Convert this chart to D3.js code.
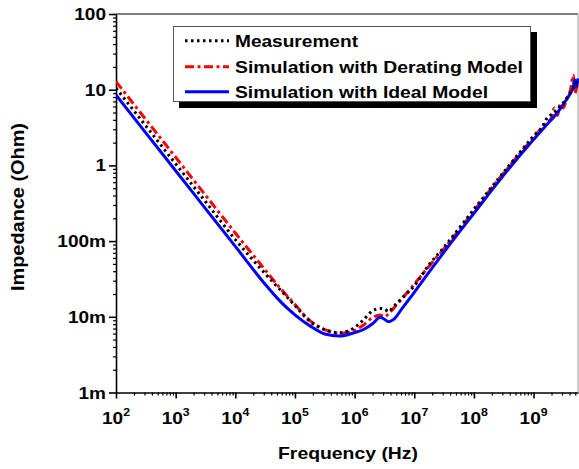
<!DOCTYPE html>
<html><head><meta charset="utf-8">
<script src="https://cdn.jsdelivr.net/npm/d3@7"></script>
<style>body{margin:0;background:#fff}svg{display:block}text{font-family:"Liberation Sans",Arial,sans-serif;font-weight:bold;fill:#000}</style>
</head><body><div id="chart"></div>
<script>
// ---- data ----
const seriesNames = ["Measurement", "Simulation with Derating Model", "Simulation with Ideal Model"];

const measFreq = [1e2,3.16e2,1e3,3.16e3,1e4,3.16e4,5.62e4,1e5,1.78e5,3.16e5,5.62e5,1e6,1.41e6,2e6,2.69e6,3.16e6,3.72e6,4.47e6,6.31e6,1e7,1.78e7,3.16e7,1e8,3.16e8,1e9,1.48e9,1.6e9,2.24e9,3.16e9,4.17e9,5.56e9];
const measZ    = [10.5,3.33,1.05,0.333,0.105,0.0372,0.0229,0.0141,0.0087,0.00676,0.00617,0.00724,0.00912,0.0120,0.0129,0.0127,0.0117,0.0136,0.0178,0.0257,0.0490,0.0832,0.263,0.813,2.45,3.5,3.98,5.0,6.76,9.12,13.5];

const deratFreq = [1e2,3.16e2,1e3,3.16e3,1e4,3.16e4,5.62e4,1e5,1.78e5,3.16e5,5.62e5,1e6,1.41e6,2e6,2.69e6,3.16e6,3.72e6,4.47e6,6.31e6,1e7,1.78e7,3.16e7,1e8,3.16e8,1e9,1.58e9,2e9,2.24e9,2.51e9,2.82e9,3.16e9,3.55e9,4.17e9,4.62e9,4.9e9,5.25e9,5.56e9];
const deratZ    = [12.8,4.04,1.28,0.404,0.128,0.0417,0.0240,0.0145,0.00891,0.00676,0.00607,0.00661,0.0078,0.00977,0.01057,0.01005,0.01096,0.0129,0.0176,0.0269,0.0468,0.0794,0.251,0.794,2.34,3.55,4.27,5.75,4.57,6.61,5.75,7.41,10.0,15.5,8.91,10.5,13.2];

const idealFreq = [1e2,3.16e2,1e3,3.16e3,1e4,3.16e4,5.62e4,1e5,1.78e5,3.16e5,5.62e5,1e6,1.41e6,2e6,2.69e6,3.16e6,3.72e6,4.47e6,6.31e6,1e7,1.78e7,3.16e7,1e8,3.16e8,1e9,1.58e9,2.24e9,2.82e9,3.55e9,4.17e9,4.62e9,4.9e9,5.25e9,5.56e9];
const idealZ    = [8.51,2.69,0.851,0.269,0.0851,0.0269,0.0161,0.0106,0.00759,0.00593,0.00557,0.0062,0.0068,0.0081,0.00984,0.00927,0.00861,0.00918,0.0130,0.0210,0.0391,0.0718,0.233,0.745,2.20,3.30,4.47,5.61,7.36,9.04,10.7,13.4,11.0,14.1];

const yTickValues = [1e-3,1e-2,1e-1,1,10,100];
const yTickLabels = ["1m","10m","100m","1","10","100"];
const xTickExponents = [2,3,4,5,6,7,8,9];
const xTitle = "Frequency (Hz)";
const yTitle = "Impedance (Ohm)";

// ---- drawing ----
const W = 579, H = 469;
const L = 116, R = 578, T = 14, B = 392.5;
const svg = d3.select("#chart").append("svg").attr("width", W).attr("height", H);

const x = d3.scaleLog().domain([1e2, Math.pow(10, 9.745)]).range([L, R]);
const y = d3.scaleLog().domain([1e-3, 100]).range([B, T]);

const SX = 1.12; // horizontal stretch of the reference's glyphs

// minor tick values
const xMinor = [], yMinor = [];
for (let e = 2; e <= 9; e++) for (let m = 2; m <= 9; m++) { const v = m * Math.pow(10, e); if (v <= x.domain()[1]) xMinor.push(v); }
for (let e = -3; e <= 1; e++) for (let m = 2; m <= 9; m++) yMinor.push(m * Math.pow(10, e));

// frame top/right
svg.append("line").attr("x1", L).attr("x2", R).attr("y1", T).attr("y2", T).attr("stroke", "#000").attr("stroke-width", 1.2);
svg.append("line").attr("x1", R).attr("x2", R).attr("y1", T).attr("y2", B).attr("stroke", "#999").attr("stroke-width", 1);

// x axis
const gx = svg.append("g").attr("transform", `translate(0,${B})`);
gx.call(d3.axisBottom(x).tickValues(xMinor).tickSize(3).tickSizeOuter(0).tickFormat(""));
gx.call(g => g.select(".domain").remove());
const gx2 = svg.append("g").attr("transform", `translate(0,${B})`);
gx2.call(d3.axisBottom(x).tickValues(xTickExponents.map(e => Math.pow(10, e))).tickSize(6).tickSizeOuter(0).tickFormat(""));
gx2.select(".domain").attr("stroke-width", 1.6);
gx2.selectAll(".tick line").attr("stroke-width", 1.6);
gx.selectAll(".tick line").attr("stroke-width", 1.2);

// y axis
const gy = svg.append("g").attr("transform", `translate(${L},0)`);
gy.call(d3.axisLeft(y).tickValues(yMinor).tickSize(3).tickSizeOuter(0).tickFormat(""));
gy.call(g => g.select(".domain").remove());
gy.selectAll(".tick line").attr("stroke-width", 1.2);
const gy2 = svg.append("g").attr("transform", `translate(${L},0)`);
gy2.call(d3.axisLeft(y).tickValues(yTickValues).tickSize(7).tickSizeOuter(0).tickFormat(""));
gy2.select(".domain").attr("stroke-width", 1.6);
gy2.selectAll(".tick line").attr("stroke-width", 1.6);

// y tick labels
yTickValues.forEach((v, i) => {
  svg.append("text").attr("transform", `translate(106,${y(v) + 6}) scale(${SX},1)`)
    .attr("text-anchor", "end").attr("font-size", 17).text(yTickLabels[i]);
});
// x tick labels
xTickExponents.forEach(e => {
  const t = svg.append("text").attr("transform", `translate(${x(Math.pow(10, e))},424) scale(${SX},1)`)
    .attr("text-anchor", "middle").attr("font-size", 17);
  t.append("tspan").text("10");
  t.append("tspan").attr("font-size", 11).attr("dy", -8).text(e);
});
// titles
svg.append("text").attr("x", 348).attr("y", 459).attr("text-anchor", "middle").attr("font-size", 17)
  .attr("textLength", 140).attr("lengthAdjust", "spacingAndGlyphs").text(xTitle);
svg.append("text").attr("transform", "translate(24,207) rotate(-90)").attr("text-anchor", "middle").attr("font-size", 18.5)
  .attr("textLength", 168).attr("lengthAdjust", "spacingAndGlyphs").text(yTitle);

// curves
svg.append("defs").append("clipPath").attr("id", "clip").append("rect").attr("x", L).attr("y", T).attr("width", R - L + 1).attr("height", B - T);
const mk = (f, z) => f.map((v, i) => [v, z[i]]);
const styles = [
  {color: "#000", dash: "2.5,3.5", width: 3},
  {color: "#ff0000", dash: "9,3.5,3,3.5", width: 3},
  {color: "#0000ff", dash: null, width: 3}
];
const data = [mk(measFreq, measZ), mk(deratFreq, deratZ), mk(idealFreq, idealZ)];
const gc = svg.append("g").attr("clip-path", "url(#clip)");
const line = d3.line().x(d => x(d[0])).y(d => y(d[1])).curve(d3.curveMonotoneX);
[1, 2, 0].forEach(i => {
  gc.append("path").attr("d", line(data[i]))
    .attr("fill", "none").attr("stroke", styles[i].color).attr("stroke-width", styles[i].width)
    .attr("stroke-dasharray", styles[i].dash);
});

// legend
svg.append("rect").attr("x", 179).attr("y", 32).attr("width", 358).attr("height", 76).attr("fill", "#000");
svg.append("rect").attr("x", 173.5).attr("y", 26.5).attr("width", 357).attr("height", 75).attr("fill", "#fff").attr("stroke", "#555").attr("stroke-width", 1);
const legY = [40.7, 66.7, 91.7];
const legLen = [123, 288, 253];
seriesNames.forEach((n, i) => {
  svg.append("line").attr("x1", 185).attr("x2", 229).attr("y1", legY[i]).attr("y2", legY[i])
    .attr("stroke", styles[i].color).attr("stroke-width", styles[i].width).attr("stroke-dasharray", styles[i].dash);
  svg.append("text").attr("x", 235).attr("y", legY[i] + 6).attr("font-size", 17)
    .attr("textLength", legLen[i]).attr("lengthAdjust", "spacingAndGlyphs").text(n);
});
</script></body></html>
